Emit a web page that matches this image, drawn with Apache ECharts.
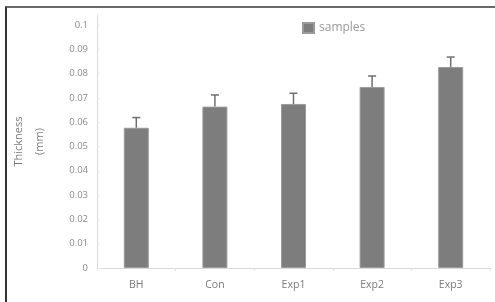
<!DOCTYPE html>
<html>
<head>
<meta charset="utf-8">
<script src="https://cdn.jsdelivr.net/npm/echarts@6/dist/echarts.min.js"></script>
<style>
  html, body { margin: 0; padding: 0; background: #fff; }
  #wrap { position: relative; width: 495px; height: 302px; overflow: hidden; }
  #chart { position: absolute; left: 0; top: 0; width: 495px; height: 302px; }
  #frame { position: absolute; left: 5px; top: 6px; width: 500px; height: 294px;
           border-top: 2px solid #6a6a6a; border-left: 2px solid #333; border-bottom: 1px solid #d0d0d0;
           pointer-events: none; }
</style>
</head>
<body>
<div id="wrap">
  <div id="chart"></div>
  <div id="frame"></div>
</div>
<script>
const categories = ['BH', 'Con', 'Exp1', 'Exp2', 'Exp3'];
const thickness = [0.0577, 0.0664, 0.0675, 0.0745, 0.0827];
const errorUp = [0.0042, 0.0048, 0.0044, 0.0045, 0.0041];
const seriesName = 'samples';
const yTitle = 'Thickness\n(mm)';

const chart = echarts.init(document.getElementById('chart'), null, { renderer: 'canvas' });

const errData = categories.map((c, i) => [i, thickness[i], thickness[i] + errorUp[i]]);

chart.setOption({
  animation: false,
  backgroundColor: '#fff',
  textStyle: { fontFamily: 'Open Sans' },
  legend: {
    data: [{ name: seriesName, icon: 'rect' }],
    left: 297, top: 17,
    itemWidth: 11, itemHeight: 10, itemGap: 4,
    textStyle: { color: '#999', fontSize: 12, fontFamily: 'Open Sans' }
  },
  grid: { left: 88, right: 5, top: 15, bottom: 34, containLabel: false },
  xAxis: {
    type: 'category',
    data: categories,
    axisLine: { lineStyle: { color: '#d9d9d9', width: 1 } },
    axisTick: { show: true, length: 3, lineStyle: { color: '#e4e4e4' } },
    axisLabel: { color: '#7a7a7a', fontSize: 10.5, margin: 12, fontFamily: 'Open Sans' }
  },
  yAxis: {
    type: 'value',
    min: 0, max: 0.1041, interval: 0.01,
    name: yTitle,
    nameLocation: 'middle',
    nameGap: 47,
    nameRotate: 90,
    nameTextStyle: { color: '#7a7a7a', fontSize: 11, lineHeight: 21, fontFamily: 'Open Sans' },
    axisLine: { show: true, lineStyle: { color: '#d9d9d9', width: 1 } },
    axisTick: { show: true, inside: true, length: 3, lineStyle: { color: '#ececec' } },
    splitLine: { show: false },
    axisLabel: {
      color: '#8a8a8a', fontSize: 9.5, margin: 9, showMaxLabel: false, fontFamily: 'Open Sans',
      formatter: v => (Math.round(v * 100) / 100).toString()
    }
  },
  series: [
    {
      name: seriesName,
      type: 'bar',
      data: thickness,
      barWidth: 25,
      itemStyle: { color: '#7d7d7d', borderColor: '#9a9a9a', borderWidth: 1 }
    },
    {
      name: 'err',
      type: 'custom',
      data: errData,
      z: 3,
      renderItem: function (params, api) {
        const x = api.value(0);
        const lo = api.coord([x, api.value(1)]);
        const hi = api.coord([x, api.value(2)]);
        const cap = 4;
        return {
          type: 'group',
          children: [
            { type: 'line', shape: { x1: lo[0], y1: lo[1], x2: hi[0], y2: hi[1] },
              style: { stroke: '#6f6f6f', lineWidth: 1.5 } },
            { type: 'line', shape: { x1: hi[0] - cap, y1: hi[1], x2: hi[0] + cap, y2: hi[1] },
              style: { stroke: '#6f6f6f', lineWidth: 1.5 } }
          ]
        };
      }
    }
  ]
});
</script>
</body>
</html>
